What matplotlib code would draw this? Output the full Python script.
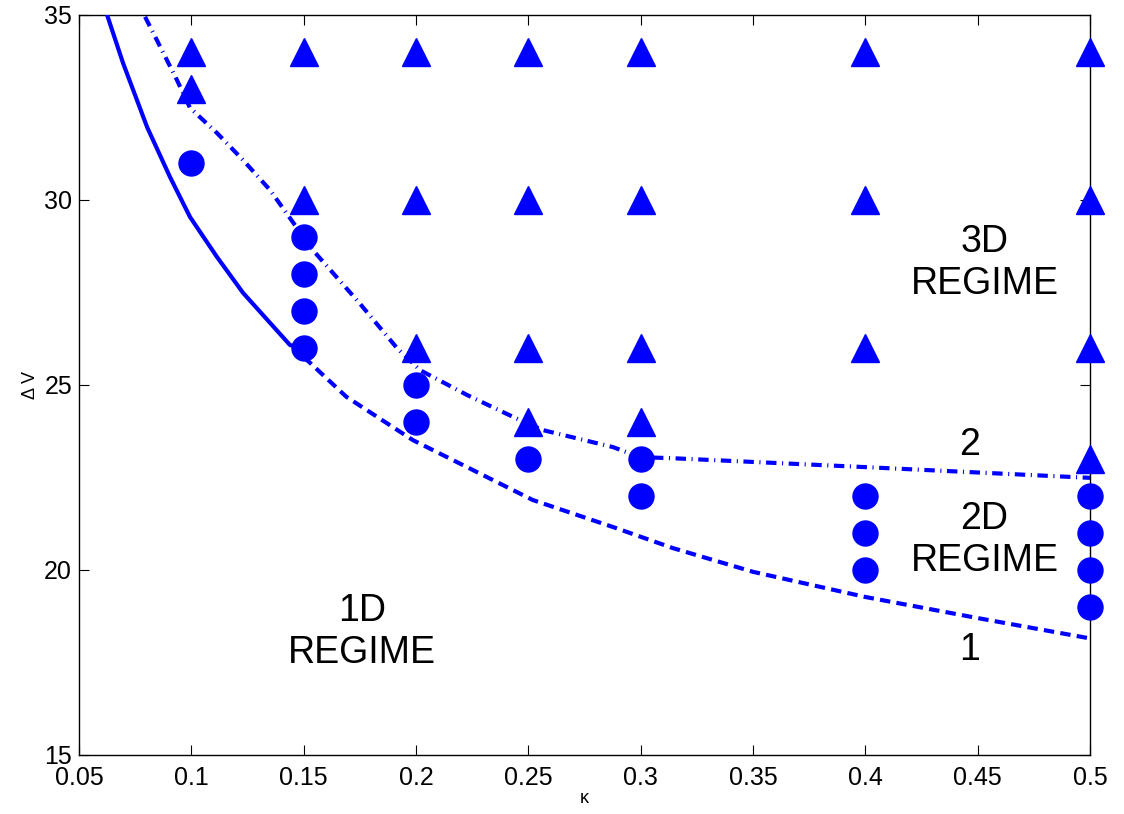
import matplotlib
matplotlib.use("Agg")
import matplotlib.pyplot as plt

plt.rcParams["font.family"] = ["Liberation Sans", "DejaVu Sans"]
plt.rcParams["lines.scale_dashes"] = False

BLUE = "#0000ff"

# measured points: 3D regime (triangles) and 2D regime (circles)
tri_x = [0.1, 0.15, 0.2, 0.25, 0.3, 0.4, 0.5,
         0.1,
         0.15, 0.2, 0.25, 0.3, 0.4, 0.5,
         0.2, 0.25, 0.3, 0.4, 0.5,
         0.25, 0.3,
         0.5]
tri_y = [34, 34, 34, 34, 34, 34, 34,
         33,
         30, 30, 30, 30, 30, 30,
         26, 26, 26, 26, 26,
         24, 24,
         23]
circ_x = [0.1, 0.15, 0.15, 0.15, 0.15, 0.2, 0.2, 0.25, 0.3, 0.3,
          0.4, 0.4, 0.4, 0.5, 0.5, 0.5, 0.5]
circ_y = [31, 29, 28, 27, 26, 25, 24, 23, 23, 22,
          22, 21, 20, 22, 21, 20, 19]

# boundary curves
solid_x = [0.0625, 0.0696, 0.0803, 0.0905, 0.0994, 0.1114, 0.123, 0.135, 0.1439, 0.15]
solid_y = [35.0, 33.70, 31.97, 30.62, 29.54, 28.46, 27.49, 26.68, 26.08, 25.98]

curve1_x = [0.15, 0.1528, 0.169, 0.1986, 0.2227, 0.252, 0.2877, 0.3144, 0.35, 0.4, 0.45, 0.5]
curve1_y = [25.75, 25.6, 24.68, 23.51, 22.78, 21.89, 21.16, 20.59, 19.95, 19.27, 18.7, 18.15]

curve2_x = [0.0794, 0.0869, 0.0936, 0.0994, 0.1114, 0.123, 0.135, 0.1439, 0.154,
            0.175, 0.1915, 0.2018, 0.2227, 0.2431, 0.2565, 0.2877, 0.2997,
            0.3144, 0.4, 0.5]
curve2_y = [34.95, 34.05, 33.24, 32.49, 31.81, 31.08, 30.27, 29.51, 28.65,
            27.2, 26.0, 25.4, 24.73, 24.14, 23.78, 23.32, 23.05,
            23.02, 22.78, 22.49]

x_ticks = [0.05, 0.1, 0.15, 0.2, 0.25, 0.3, 0.35, 0.4, 0.45, 0.5]
x_tick_labels = ["0.05", "0.1", "0.15", "0.2", "0.25", "0.3", "0.35", "0.4", "0.45", "0.5"]
y_ticks = [15, 20, 25, 30, 35]


def main() -> None:
    fig = plt.figure(figsize=(11.24, 8.14), dpi=100)
    ax = fig.add_axes([0.0703, 0.0725, 0.8995, 0.9091])

    ax.plot(tri_x, tri_y, linestyle="none", marker="^", markersize=20,
            color=BLUE, clip_on=False, zorder=3)
    ax.plot(circ_x, circ_y, linestyle="none", marker="o", markersize=18,
            color=BLUE, clip_on=False, zorder=3)

    ax.plot(solid_x, solid_y, color=BLUE, lw=3, zorder=4)
    ax.plot(curve1_x, curve1_y, color=BLUE, lw=3, dashes=(7.5, 4.5), zorder=4)
    ax.plot(curve2_x, curve2_y, color=BLUE, lw=3,
            dashes=(7.5, 4.0, 0.8, 4.0), zorder=4)

    big = dict(fontsize=27, ha="center", va="center", linespacing=1.2)
    ax.text(0.453, 28.3, "3D\nREGIME", **big)
    ax.text(0.453, 20.81, "2D\nREGIME", **big)
    ax.text(0.176, 18.32, "1D\nREGIME", **big)
    ax.text(0.4465, 23.38, "2", fontsize=27, ha="center", va="center")
    ax.text(0.4465, 17.84, "1", fontsize=27, ha="center", va="center")

    ax.set_xlim(0.05, 0.5)
    ax.set_ylim(15, 35)
    ax.set_xticks(x_ticks)
    ax.set_xticklabels(x_tick_labels)
    ax.set_yticks(y_ticks)
    ax.tick_params(direction="in", top=True, right=True, length=7, width=0.8,
                   labelsize=18)
    ax.tick_params(axis="x", pad=8)
    ax.tick_params(axis="y", pad=5)
    for s in ax.spines.values():
        s.set_linewidth(1.0)

    ax.set_xlabel("κ", fontsize=13, labelpad=0)
    ax.set_ylabel("Δ V", fontsize=13, labelpad=4)

    fig.savefig("out.png", dpi=100)
    plt.close(fig)


if __name__ == "__main__":
    main()
